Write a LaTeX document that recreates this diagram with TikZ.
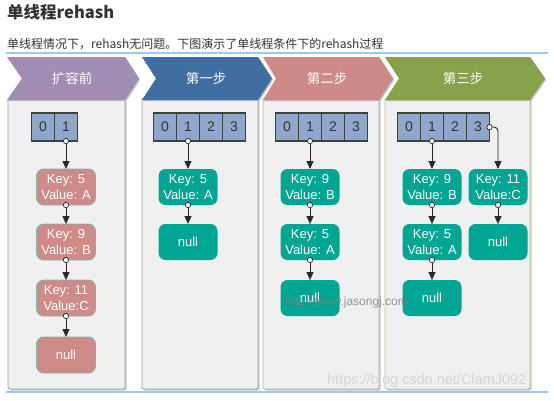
\documentclass[tikz,border=0pt]{standalone}
\usepackage{fontspec}
\setmainfont{Liberation Sans}
\newfontfamily\cjk{Noto Sans CJK SC}
\usetikzlibrary{arrows.meta}
\definecolor{titlec}{RGB}{51,51,51}
\definecolor{sepc}{RGB}{152,204,236}
\definecolor{chevA}{RGB}{161,141,179}
\definecolor{chevB}{RGB}{64,110,163}
\definecolor{chevC}{RGB}{206,138,137}
\definecolor{chevD}{RGB}{135,162,75}
\definecolor{boxfill}{RGB}{240,240,240}
\definecolor{boxA}{RGB}{160,160,160}
\definecolor{boxC}{RGB}{200,168,168}
\definecolor{boxD}{RGB}{185,197,160}
\definecolor{cellfill}{RGB}{143,167,204}
\definecolor{cellline}{RGB}{64,64,64}
\definecolor{tealc}{RGB}{0,166,147}
\definecolor{pinkc}{RGB}{208,138,136}
\definecolor{pinkline}{RGB}{120,185,175}
\definecolor{arrowc}{RGB}{40,40,40}
\begin{document}
\begin{tikzpicture}[x=1pt,y=-1pt,
  sepline/.style={draw=sepc,line width=1.5pt},
  colbox/.style={fill=boxfill,line width=0.8pt,rounded corners=1.5pt},
  colshadow/.style={fill=black!22,rounded corners=1.5pt},
  chevshadow/.style={fill=black!25},
  chevlabel/.style={text=white,font=\cjk\fontsize{13.5}{15}\selectfont,inner sep=0pt},
  cell/.style={draw=cellline,fill=cellfill,line width=1.1pt,minimum width=23pt,minimum height=28pt,inner sep=0pt,outer sep=0pt,font=\fontsize{14}{16}\selectfont,text=titlec},
  entry/.style={rounded corners=7pt,minimum width=59pt,minimum height=36pt,inner sep=0pt,outer sep=0pt,text=white,align=center,font=\fontsize{13}{15.5}\selectfont},
  tealnode/.style={entry,fill=tealc},
  pinknode/.style={entry,fill=pinkc,draw=pinkline,line width=0.8pt},
  link/.style={draw=arrowc,line width=0.9pt,{Circle[open,length=6pt,width=6pt,fill=white,line width=0.7pt]}-{Triangle[length=8pt,width=7pt]},shorten <=-3pt}
]
\useasboundingbox (0,0) rectangle (554,400);
\fill[white] (0,0) rectangle (554,400);

% title and subtitle
\node[anchor=west,inner sep=0pt,text=titlec,font=\cjk\bfseries\fontsize{16.5}{19}\selectfont] (title) at (7,12) {单线程rehash};
\node[anchor=west,inner sep=0pt,text=titlec,font=\cjk\fontsize{12}{14}\selectfont] (sub) at (7,44) {单线程情况下，rehash无问题。下图演示了单线程条件下的rehash过程};
\draw[sepline] (6,53) -- (548,53);
\draw[sepline] (6,392) -- (548,392);

% column boxes
\fill[colshadow] (9.5,99.5) rectangle (126.5,390.5);
\draw[colbox,draw=boxA] (8,98) rectangle (125,389);
\fill[colshadow] (143.5,99.5) rectangle (259.5,390.5);
\draw[colbox,draw=boxA] (142,98) rectangle (258,389);
\fill[colshadow] (264.5,99.5) rectangle (380.5,390.5);
\draw[colbox,draw=boxC] (263,98) rectangle (379,389);
\fill[colshadow] (386.5,99.5) rectangle (531.5,390.5);
\draw[colbox,draw=boxD] (385,98) rectangle (530,389);

% chevrons
\fill[chevshadow] (8.2,58.2) -- (126.2,58.2) -- (140.2,79.7) -- (126.2,101.2) -- (8.2,101.2) -- (23.2,79.7) -- cycle;
\fill[chevA] (7,57) -- (125,57) -- (139,78.5) -- (125,100) -- (7,100) -- (22,78.5) -- cycle;
\fill[chevshadow] (143.2,58.2) -- (259.2,58.2) -- (273.2,79.7) -- (259.2,101.2) -- (143.2,101.2) -- (157.2,79.7) -- cycle;
\fill[chevB] (142,57) -- (258,57) -- (272,78.5) -- (258,100) -- (142,100) -- (156,78.5) -- cycle;
\fill[chevshadow] (264.2,58.2) -- (380.2,58.2) -- (394.2,79.7) -- (380.2,101.2) -- (264.2,101.2) -- (277.2,79.7) -- cycle;
\fill[chevC] (263,57) -- (379,57) -- (393,78.5) -- (379,100) -- (263,100) -- (276,78.5) -- cycle;
\fill[chevshadow] (386.2,58.2) -- (531.2,58.2) -- (546.2,79.7) -- (531.2,101.2) -- (386.2,101.2) -- (400.2,79.7) -- cycle;
\fill[chevD] (385,57) -- (530,57) -- (545,78.5) -- (530,100) -- (385,100) -- (399,78.5) -- cycle;
\node[chevlabel] (h1) at (72,78.5) {扩容前};
\node[chevlabel] (h2) at (206,78.5) {第一步};
\node[chevlabel] (h3) at (327,78.5) {第二步};
\node[chevlabel] (h4) at (463,78.5) {第三步};

% column 1: before
\node[cell] (a0) at (43,127) {0};
\node[cell] (a1) at (66,127) {1};
\node[pinknode] (an1) at (66,187) {Key: 5\\Value: A};
\node[pinknode] (an2) at (66,242) {Key: 9\\Value: B};
\node[pinknode] (an3) at (66,298) {Key: 11\\Value:C};
\node[pinknode] (an4) at (66,355) {null};
\draw[link] (a1.south) -- (an1.north);
\draw[link] (an1.south) -- (an2.north);
\draw[link] (an2.south) -- (an3.north);
\draw[link] (an3.south) -- (an4.north);

% column 2: step 1
\node[cell] (b0) at (165,127) {0};
\node[cell] (b1) at (188,127) {1};
\node[cell] (b2) at (211,127) {2};
\node[cell] (b3) at (234,127) {3};
\node[tealnode] (bn1) at (188,187) {Key: 5\\Value: A};
\node[tealnode] (bn2) at (188,242) {null};
\draw[link] (b1.south) -- (bn1.north);
\draw[link] (bn1.south) -- (bn2.north);

% column 3: step 2
\node[cell] (c0) at (287,127) {0};
\node[cell] (c1) at (310,127) {1};
\node[cell] (c2) at (333,127) {2};
\node[cell] (c3) at (356,127) {3};
\node[tealnode] (cn1) at (310,187) {Key: 9\\Value: B};
\node[tealnode] (cn2) at (310,242) {Key: 5\\Value: A};
\node[tealnode] (cn3) at (310,298) {null};
\draw[link] (c1.south) -- (cn1.north);
\draw[link] (cn1.south) -- (cn2.north);
\draw[link] (cn2.south) -- (cn3.north);

% column 4: step 3
\node[cell] (d0) at (409,127) {0};
\node[cell] (d1) at (432,127) {1};
\node[cell] (d2) at (455,127) {2};
\node[cell] (d3) at (478,127) {3};
\node[tealnode] (dn1) at (432,187) {Key: 9\\Value: B};
\node[tealnode] (dn2) at (432,242) {Key: 5\\Value: A};
\node[tealnode] (dn3) at (432,298) {null};
\node[tealnode] (en1) at (498,187) {Key: 11\\Value:C};
\node[tealnode] (en2) at (498,242) {null};
\draw[link] (d1.south) -- (dn1.north);
\draw[link] (dn1.south) -- (dn2.north);
\draw[link] (dn2.south) -- (dn3.north);
\draw[link,rounded corners=4pt] (d3.east) -| (en1.north);
\draw[link] (en1.south) -- (en2.north);

% watermarks
\node[anchor=west,inner sep=0pt,text=black!50,opacity=0.8,font=\fontsize{12}{14}\selectfont] (wm1) at (285,302) {http://www.jasongj.com};
\node[anchor=west,inner sep=0pt,text=black!16,font=\fontsize{14.5}{16}\selectfont] (wm2) at (327,381) {https://blog.csdn.net/ClamJ092};
\end{tikzpicture}
\end{document}
